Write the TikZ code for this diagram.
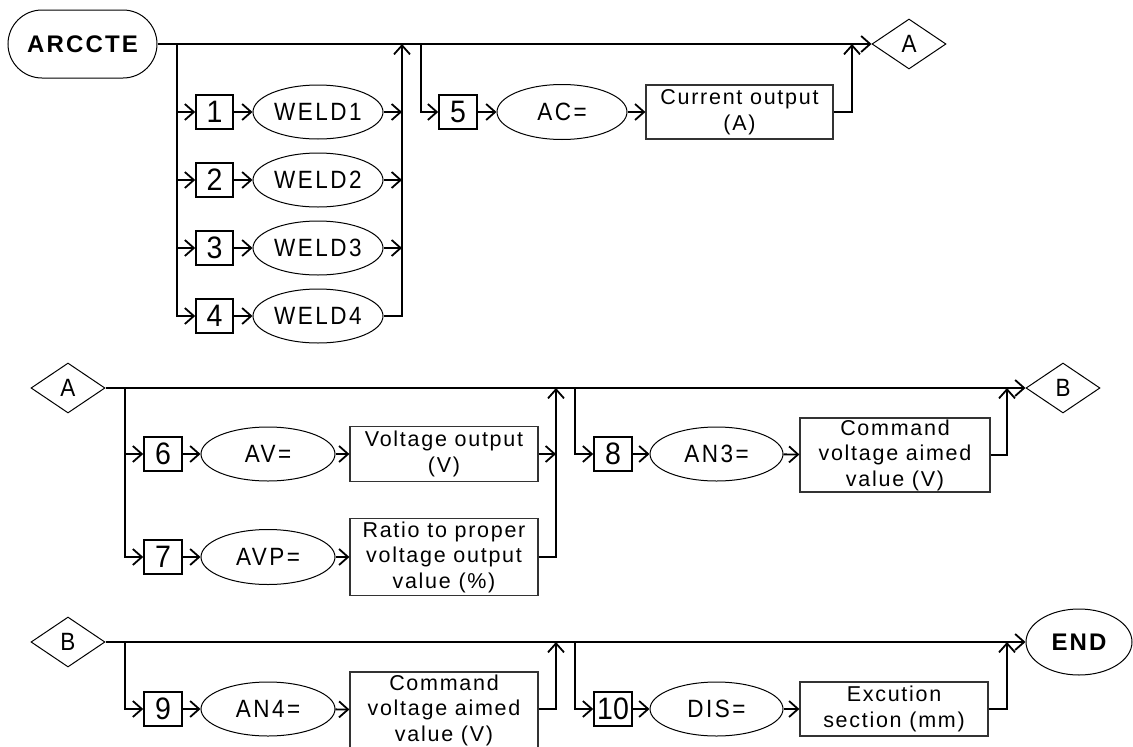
\documentclass[tikz,border=0pt]{standalone}
\usepackage{fontspec}
\setmainfont{Liberation Sans}[LetterSpace=8]
\newfontfamily\lblfont{Liberation Sans}[FakeStretch=0.9,LetterSpace=10]
\newfontfamily\digitfont{Liberation Sans}[FakeStretch=0.92]
\newfontfamily\boldlbl{Liberation Sans}[LetterSpace=9]
\usetikzlibrary{shapes.geometric,arrows.meta}
\tikzset{
  conn/.style={line width=1.8pt, draw=black},
  arr/.style={conn, -{Straight Barb[length=9pt,width=16pt]}},
  numbox/.style={draw, line width=1.6pt, minimum width=38pt, minimum height=34pt, inner sep=0pt, font=\digitfont\fontsize{31}{32}\selectfont},
  lbl/.style={draw, ellipse, line width=1pt, minimum width=132pt, minimum height=54pt, inner sep=0pt, font=\lblfont\fontsize{25}{28}\selectfont},
  txtbox/.style={draw, line width=1.2pt, draw=black!80, minimum width=188pt, inner sep=0pt, align=center, font=\fontsize{21.5}{25.5}\selectfont},
  conbox/.style={draw, diamond, line width=1pt, minimum width=74pt, minimum height=50pt, inner sep=0pt, font=\lblfont\fontsize{25}{28}\selectfont},
  terminal/.style={draw, line width=1pt, inner sep=0pt, font=\boldlbl\bfseries\fontsize{24}{26}\selectfont},
}
\begin{document}
\begin{tikzpicture}[x=1pt,y=-1pt]
\useasboundingbox (0,0) rectangle (1133,747);
% ---------- row 1
\node[terminal, rounded corners=34pt, minimum width=149pt, minimum height=68pt] (start) at (82.5,44) {ARCCTE};
\node[conbox] (dA1) at (909,44) {A};
\coordinate (s1) at (177,44);
\coordinate (r1) at (402,44);
\coordinate (s2) at (421,44);
\coordinate (r2) at (852,44);
\foreach \i/\y in {1/112,2/180,3/248,4/316}{
  \node[numbox, minimum width=37pt] (n\i) at (214.5,\y) {\i};
  \node[lbl, minimum width=130pt] (w\i) at (318,\y) {WELD\i};
}
\node[numbox] (n5) at (458,112) {5};
\node[lbl, minimum width=130pt, minimum height=55pt] (e5) at (562,112) {AC=};
\node[txtbox, minimum width=187pt, minimum height=54pt] (t5) at (739.5,112) {Current output\\(A)};

\draw[arr] (start) -- (dA1);
\foreach \i in {1,2,3,4}{
  \draw[arr] (s1) |- (n\i);
  \draw[arr] (n\i) -- (w\i);
}
\foreach \i in {1,2,3}{
  \draw[arr] (w\i.east) -- (w\i.east -| r1);
}
\draw[arr] (w4.east) -| (r1);
\draw[arr] (s2) |- (n5);
\draw[arr] (n5) -- (e5);
\draw[arr] (e5) -- (t5);
\draw[arr] (t5.east) -| (r2);

% ---------- row 2
\node[conbox] (dA2) at (68,388) {A};
\node[conbox] (dB1) at (1063,388) {B};
\coordinate (s3) at (125,388);
\coordinate (r3) at (556,388);
\coordinate (s4) at (575,388);
\coordinate (r4) at (1007,388);
\node[numbox] (n6) at (163,454) {6};
\node[lbl, minimum width=134pt] (e6) at (268,454) {AV=};
\node[txtbox, minimum height=55pt] (t6) at (444,454) {Voltage output\\(V)};
\node[numbox] (n7) at (163,557) {7};
\node[lbl, minimum width=134pt, minimum height=55pt] (e7) at (268,557) {AVP=};
\node[txtbox, minimum height=77pt] (t7) at (444,557) {Ratio to proper\\voltage output\\value (\%)};
\node[numbox] (n8) at (613,454) {8};
\node[lbl, minimum width=133pt] (e8) at (716.5,454) {AN3=};
\node[txtbox, minimum width=190pt, minimum height=74pt] (t8) at (895,455) {Command\\voltage aimed\\value (V)};

\draw[arr] (dA2) -- (dB1);
\draw[arr] (s3) |- (n6);
\draw[arr] (s3) |- (n7);
\draw[arr] (n6) -- (e6);
\draw[arr] (e6) -- (t6);
\draw[arr] (n7) -- (e7);
\draw[arr] (e7) -- (t7);
\draw[arr] (t6.east) -- (t6.east -| r3);
\draw[arr] (t7.east) -| (r3);
\draw[arr] (s4) |- (n8);
\draw[arr] (n8) -- (e8);
\draw[arr] (e8) -- (t8);
\draw[arr] (t8.east) -| (r4);

% ---------- row 3
\node[conbox] (dB2) at (68,642) {B};
\node[terminal, ellipse, minimum width=106pt, minimum height=66pt] (end) at (1079,642) {END};
\coordinate (s5) at (125,642);
\coordinate (r5) at (556,642);
\coordinate (s6) at (575,642);
\coordinate (r6) at (1007,642);
\node[numbox] (n9) at (163,709) {9};
\node[lbl, minimum width=134pt] (e9) at (268,709) {AN4=};
\node[txtbox, minimum height=76pt] (t9) at (444,710) {Command\\voltage aimed\\value (V)};
\node[numbox] (n10) at (613,709) {10};
\node[lbl, minimum width=133pt] (e10) at (716.5,709) {DIS=};
\node[txtbox, minimum height=54pt] (t10) at (894,709) {Excution\\section (mm)};

\draw[arr] (dB2) -- (end);
\draw[arr] (s5) |- (n9);
\draw[arr] (n9) -- (e9);
\draw[arr] (e9) -- (t9);
\draw[arr] (t9.east |- n9) -| (r5);
\draw[arr] (s6) |- (n10);
\draw[arr] (n10) -- (e10);
\draw[arr] (e10) -- (t10);
\draw[arr] (t10.east) -| (r6);
\end{tikzpicture}
\end{document}
